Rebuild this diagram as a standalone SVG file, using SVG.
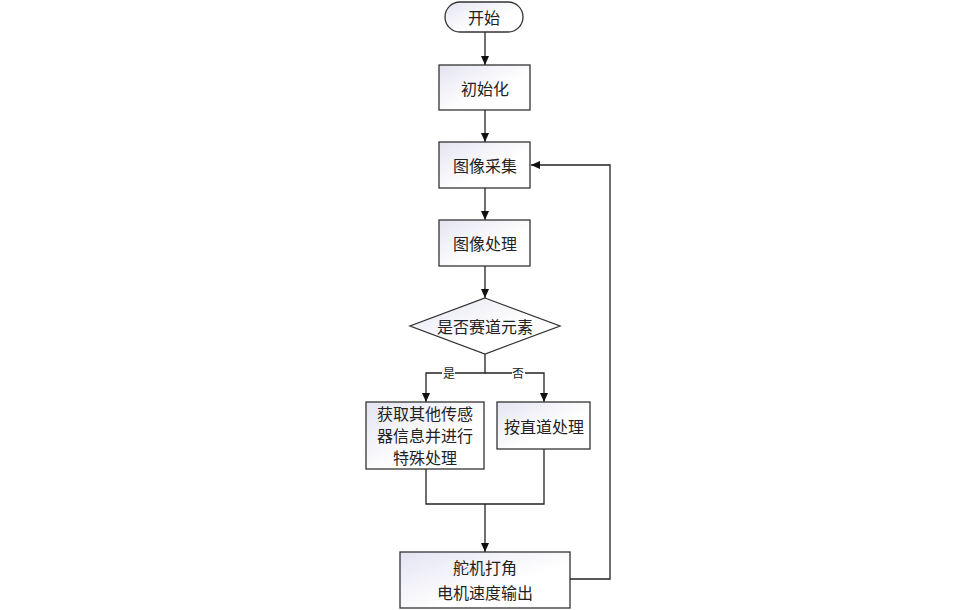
<svg xmlns="http://www.w3.org/2000/svg" width="976" height="610" viewBox="0 0 976 610">
<defs>
<linearGradient id="g" x1="0" y1="0" x2="1" y2="1">
<stop offset="0" stop-color="#e4e4f2"/>
<stop offset="0.6" stop-color="#ffffff"/>
</linearGradient>
<marker id="ah" markerWidth="10" markerHeight="10" refX="9" refY="5" orient="auto" markerUnits="userSpaceOnUse">
<path d="M0,1 L9,5 L0,9 Z" fill="#111"/>
</marker>
<style>
.n{fill:url(#g);stroke:#333;stroke-width:1.3}
.t{font-family:"Noto Sans CJK SC","Liberation Sans",sans-serif;font-size:16px;fill:#222;text-anchor:middle;dominant-baseline:central}
.s{font-family:"Noto Sans CJK SC","Liberation Sans",sans-serif;font-size:12px;fill:#222;text-anchor:middle;dominant-baseline:central}
.c{fill:none;stroke:#222;stroke-width:1.3}
</style>
</defs>
<rect width="976" height="610" fill="#fff"/>
<g id="connectors">
<path class="c" d="M485,32 V65" marker-end="url(#ah)"/>
<path class="c" d="M485,110 V142" marker-end="url(#ah)"/>
<path class="c" d="M485,188 V220" marker-end="url(#ah)"/>
<path class="c" d="M485,266 V298" marker-end="url(#ah)"/>
<path class="c" d="M485,354 V373 H426 V402" marker-end="url(#ah)"/>
<path class="c" d="M485,373 H544 V402" marker-end="url(#ah)"/>
<path class="c" d="M426,469 V504 H544 V449"/>
<path class="c" d="M485,504 V552" marker-end="url(#ah)"/>
<path class="c" d="M570,579 H610 V165 H531" marker-end="url(#ah)"/>
<rect x="442" y="366" width="13" height="13" fill="#fff"/>
<text class="s" x="449" y="372">是</text>
<rect x="512" y="366" width="13" height="13" fill="#fff"/>
<text class="s" x="518" y="372">否</text>
</g>
<g id="start">
<rect class="n" x="445" y="2" width="78" height="30" rx="15" ry="15"/>
<text class="t" x="484" y="17">开始</text>
</g>
<g id="init">
<rect class="n" x="439" y="65" width="91" height="45"/>
<text class="t" x="485" y="88">初始化</text>
</g>
<g id="capture">
<rect class="n" x="439" y="142" width="91" height="46"/>
<text class="t" x="485" y="165">图像采集</text>
</g>
<g id="process">
<rect class="n" x="439" y="220" width="91" height="46"/>
<text class="t" x="485" y="243">图像处理</text>
</g>
<g id="decision">
<polygon class="n" points="485,298 560,326 485,354 410,326"/>
<text class="t" x="485" y="326">是否赛道元素</text>
</g>
<g id="special">
<rect class="n" x="366" y="402" width="118" height="67"/>
<text class="t" x="425" y="413">获取其他传感</text>
<text class="t" x="425" y="435">器信息并进行</text>
<text class="t" x="425" y="457">特殊处理</text>
</g>
<g id="straight">
<rect class="n" x="497" y="402" width="93" height="47"/>
<text class="t" x="544" y="426">按直道处理</text>
</g>
<g id="output">
<rect class="n" x="400" y="552" width="170" height="56"/>
<text class="t" x="485" y="567">舵机打角</text>
<text class="t" x="485" y="592">电机速度输出</text>
</g>
</svg>
